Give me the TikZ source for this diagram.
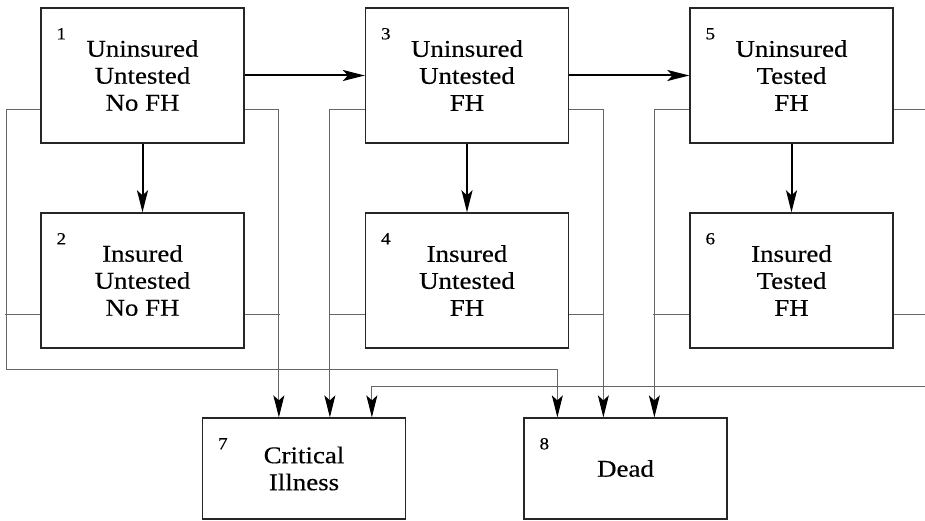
\documentclass[tikz,border=0pt]{standalone}
\usepackage{fontspec}
\setmainfont{Liberation Serif}[FakeStretch=1.12,FakeBold=0.4]
\usepackage{tikz}
\usetikzlibrary{arrows.meta}

\begin{document}
\begin{tikzpicture}[x=1pt,y=-1pt,
  state/.style={draw=black!85,line width=1.3pt,minimum width=203pt,minimum height=135pt,
    align=center,inner sep=0pt,font=\fontsize{24}{27}\selectfont},
  endstate/.style={state,minimum height=101pt},
  num/.style={anchor=base west,inner sep=0pt,font=\fontsize{17}{17}\selectfont},
  move/.style={-{Stealth[length=22pt,width=11pt,inset=5pt]},line width=2pt},
  exit/.style={draw=black!60,line width=1pt},
  exitarrow/.style={exit,-{Stealth[length=22pt,width=11pt,inset=5pt,color=black]}}]

\clip (0,0) rectangle (925,521);

\node [state] (s1) at (142.5,75.5) {Uninsured\\Untested\\No FH};
\node [state] (s2) at (142.5,280.5) {Insured\\Untested\\No FH};
\node [state] (s3) at (467,75.5) {Uninsured\\Untested\\FH};
\node [state] (s4) at (467,280.5) {Insured\\Untested\\FH};
\node [state] (s5) at (791.5,75.5) {Uninsured\\Tested\\FH};
\node [state] (s6) at (791.5,280.5) {Insured\\Tested\\FH};
\node [endstate] (s7) at (304,468.5) {Critical\\Illness};
\node [endstate] (s8) at (625.5,468.5) {Dead};

\node [num] (n1) at ([shift={(16pt,-32pt)}]s1.north west) {1};
\node [num] (n2) at ([shift={(16pt,-32pt)}]s2.north west) {2};
\node [num] (n3) at ([shift={(16pt,-32pt)}]s3.north west) {3};
\node [num] (n4) at ([shift={(16pt,-32pt)}]s4.north west) {4};
\node [num] (n5) at ([shift={(16pt,-32pt)}]s5.north west) {5};
\node [num] (n6) at ([shift={(16pt,-32pt)}]s6.north west) {6};
\node [num] (n7) at ([shift={(16pt,-32pt)}]s7.north west) {7};
\node [num] (n8) at ([shift={(16pt,-32pt)}]s8.north west) {8};

\coordinate (lbus) at (6,369);
\coordinate (rbus) at (940,386);

\draw (s1) edge[move] (s3);
\draw (s3) edge[move] (s5);
\draw (s1) edge[move] (s2);
\draw (s3) edge[move] (s4);
\draw (s5) edge[move] (s6);

\draw [exitarrow] ([yshift=34pt]s1.south west) -| (lbus) -| ([xshift=34pt]s8.north west);
\draw [exit] ([yshift=34pt]s2.south west) -- ++(-35,0);
\draw [exitarrow] ([yshift=34pt]s1.south east) -| ([xshift=77pt]s7.north west);
\draw [exit] ([yshift=34pt]s2.south east) -- ++(35,0);

\draw [exitarrow] ([yshift=34pt]s3.south west) -| ([xshift=128pt]s7.north west);
\draw [exit] ([yshift=34pt]s4.south west) -- ++(-35,0);
\draw [exitarrow] ([yshift=34pt]s3.south east) -| ([xshift=80pt]s8.north west);
\draw [exit] ([yshift=34pt]s4.south east) -- ++(34,0);

\draw [exitarrow] ([yshift=34pt]s5.south west) -| ([xshift=131pt]s8.north west);
\draw [exit] ([yshift=34pt]s6.south west) -- ++(-36,0);
\draw [exitarrow] ([yshift=34pt]s5.south east) -| (rbus) -| ([xshift=170pt]s7.north west);
\draw [exit] ([yshift=34pt]s6.south east) -- ++(50,0);

\end{tikzpicture}
\end{document}
